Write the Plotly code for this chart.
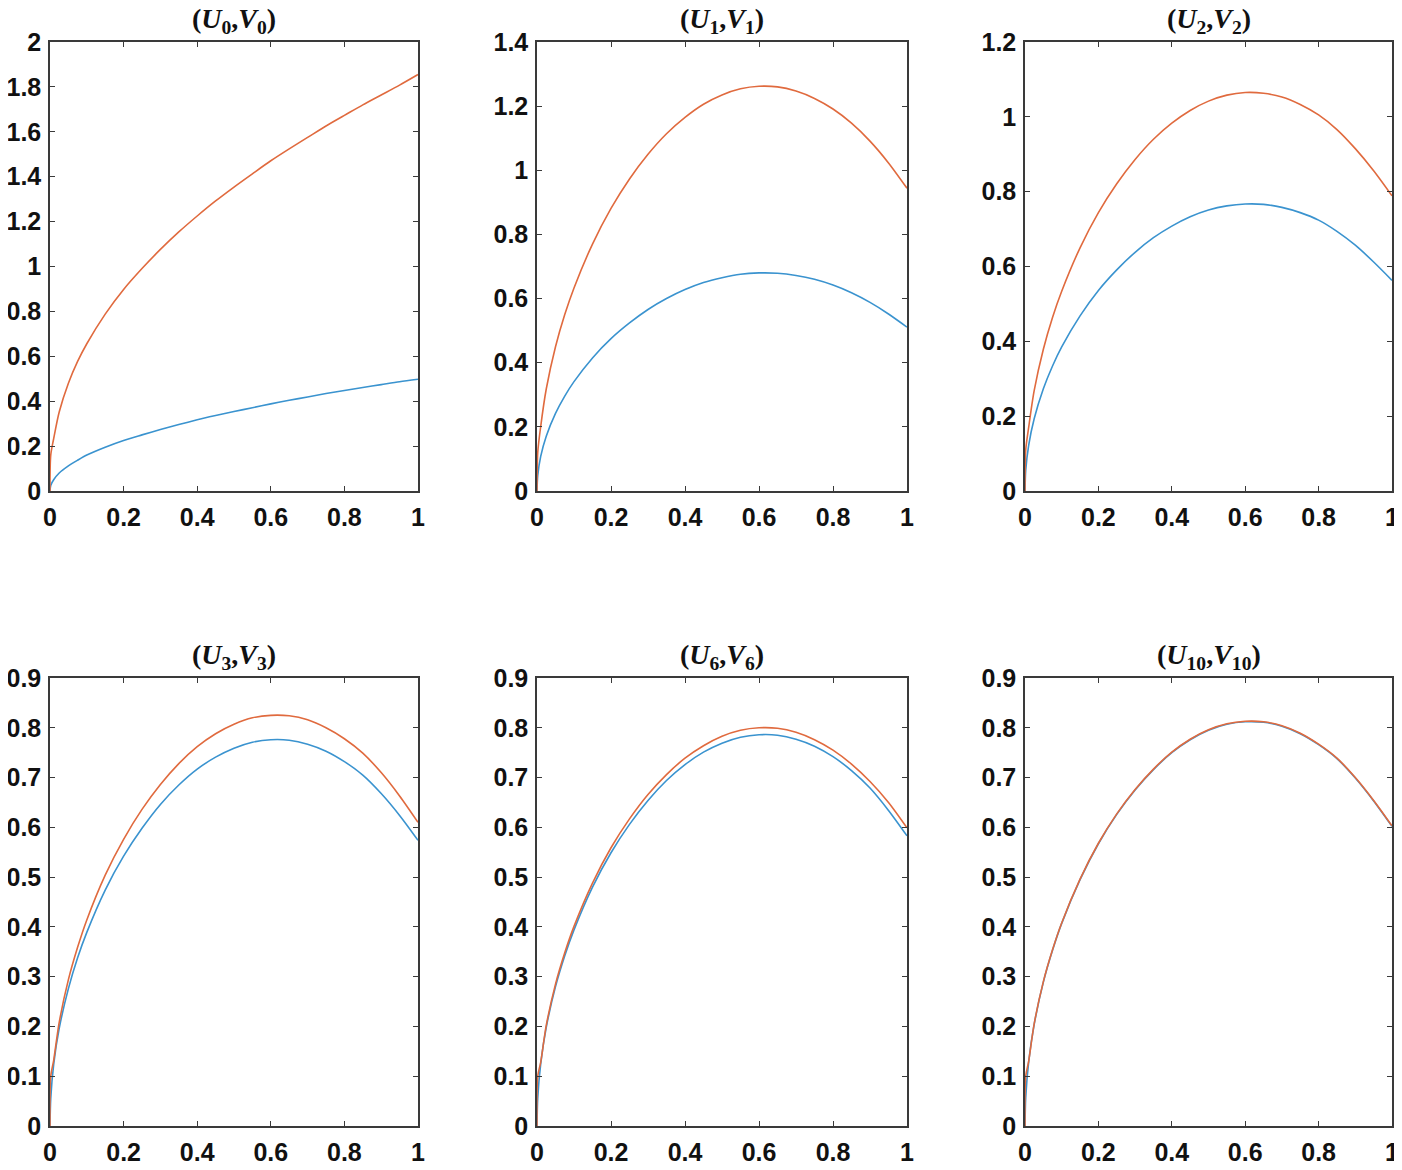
import plotly.graph_objects as go
from plotly.subplots import make_subplots

# ---- data ----
X = [0, 0.002, 0.01, 0.025, 0.05, 0.075, 0.1, 0.15, 0.2, 0.25, 0.3, 0.35, 0.4,
     0.45, 0.5, 0.55, 0.6, 0.65, 0.7, 0.75, 0.8, 0.85, 0.9, 0.95, 1.0]

titles = ["(<i>U</i><sub>0</sub>,<i>V</i><sub>0</sub>)",
          "(<i>U</i><sub>1</sub>,<i>V</i><sub>1</sub>)",
          "(<i>U</i><sub>2</sub>,<i>V</i><sub>2</sub>)",
          "(<i>U</i><sub>3</sub>,<i>V</i><sub>3</sub>)",
          "(<i>U</i><sub>6</sub>,<i>V</i><sub>6</sub>)",
          "(<i>U</i><sub>10</sub>,<i>V</i><sub>10</sub>)"]

u0 = [0, 0.025, 0.05, 0.08, 0.112, 0.137, 0.16, 0.195, 0.225, 0.25, 0.274, 0.296, 0.317,
      0.336, 0.354, 0.371, 0.388, 0.404, 0.419, 0.434, 0.448, 0.461, 0.474, 0.487, 0.498]
v0 = [0, 0.16, 0.233, 0.352, 0.48, 0.577, 0.656, 0.788, 0.898, 0.991, 1.076, 1.154, 1.225,
      1.292, 1.354, 1.413, 1.471, 1.524, 1.575, 1.626, 1.673, 1.72, 1.764, 1.808, 1.855]

u1 = [0, 0.048, 0.108, 0.171, 0.242, 0.296, 0.341, 0.415, 0.475, 0.524, 0.566, 0.600, 0.628,
      0.650, 0.665, 0.676, 0.680, 0.679, 0.672, 0.660, 0.642, 0.618, 0.588, 0.552, 0.511]
v1 = [0, 0.12, 0.201, 0.318, 0.450, 0.550, 0.633, 0.770, 0.881, 0.973, 1.050, 1.114, 1.165,
      1.206, 1.235, 1.254, 1.262, 1.260, 1.247, 1.224, 1.191, 1.147, 1.091, 1.023, 0.944]

u2 = [0, 0.055, 0.122, 0.193, 0.273, 0.334, 0.385, 0.468, 0.536, 0.591, 0.638, 0.677, 0.708,
      0.733, 0.751, 0.762, 0.767, 0.766, 0.758, 0.744, 0.724, 0.694, 0.657, 0.612, 0.563]
v2 = [0, 0.11, 0.170, 0.268, 0.379, 0.464, 0.534, 0.650, 0.744, 0.821, 0.886, 0.940, 0.983,
      1.017, 1.042, 1.058, 1.065, 1.063, 1.053, 1.033, 1.005, 0.966, 0.915, 0.856, 0.789]

u3 = [0, 0.055, 0.124, 0.196, 0.276, 0.338, 0.389, 0.474, 0.542, 0.598, 0.646, 0.685, 0.717,
      0.741, 0.759, 0.771, 0.776, 0.775, 0.767, 0.753, 0.732, 0.705, 0.668, 0.624, 0.574]
v3 = [0, 0.1, 0.132, 0.208, 0.294, 0.359, 0.414, 0.504, 0.576, 0.636, 0.686, 0.728, 0.762,
      0.788, 0.807, 0.820, 0.825, 0.824, 0.816, 0.800, 0.778, 0.749, 0.710, 0.663, 0.610]

u6 = [0, 0.056, 0.125, 0.198, 0.280, 0.342, 0.394, 0.480, 0.549, 0.606, 0.654, 0.694, 0.726,
      0.751, 0.769, 0.781, 0.786, 0.785, 0.777, 0.763, 0.742, 0.714, 0.679, 0.634, 0.583]
v6 = [0, 0.1, 0.128, 0.202, 0.285, 0.348, 0.401, 0.488, 0.559, 0.617, 0.666, 0.706, 0.739,
      0.764, 0.783, 0.795, 0.800, 0.799, 0.791, 0.776, 0.755, 0.727, 0.692, 0.650, 0.599]

u10 = [0, 0.057, 0.129, 0.204, 0.289, 0.353, 0.407, 0.495, 0.567, 0.626, 0.675, 0.716, 0.750,
       0.776, 0.795, 0.807, 0.812, 0.811, 0.803, 0.788, 0.766, 0.738, 0.699, 0.653, 0.602]
v10 = [0, 0.1, 0.130, 0.205, 0.290, 0.354, 0.408, 0.496, 0.568, 0.627, 0.676, 0.717, 0.751,
       0.777, 0.796, 0.808, 0.813, 0.812, 0.804, 0.789, 0.767, 0.739, 0.700, 0.654, 0.603]

U_series = [u0, u1, u2, u3, u6, u10]
V_series = [v0, v1, v2, v3, v6, v10]
y_max = [2, 1.4, 1.2, 0.9, 0.9, 0.9]
y_step = [0.2, 0.2, 0.2, 0.1, 0.1, 0.1]
x_ticks = [0, 0.2, 0.4, 0.6, 0.8, 1]

BLUE = "#3a93cf"
ORANGE = "#e06a3e"
AX = "#3a3a3a"

# the page body has an 8px margin; figure is sized to fit the window
OFF = 8
W, H = 1402 - OFF, 1170 - 2 * OFF
# target plot frames in window pixels
xdom_px = [(50, 418), (537, 907), (1025, 1392)]
ydom_px = [(42, 491), (678, 1126)]

fig = make_subplots(rows=2, cols=3)

for i in range(6):
    r, c = i // 3 + 1, i % 3 + 1
    fig.add_trace(go.Scatter(x=X, y=U_series[i], mode="lines",
                             line=dict(color=BLUE, width=1.6, shape="spline", smoothing=0.8),
                             showlegend=False, hoverinfo="skip"), row=r, col=c)
    fig.add_trace(go.Scatter(x=X, y=V_series[i], mode="lines",
                             line=dict(color=ORANGE, width=1.6, shape="spline", smoothing=0.8),
                             showlegend=False, hoverinfo="skip"), row=r, col=c)

tickfont = dict(family="Liberation Sans, Arial", size=25, color="#111111", weight="bold")

for i in range(6):
    r, c = i // 3, i % 3
    x0, x1 = xdom_px[c]
    y0, y1 = ydom_px[r]
    xd = [max(0.0, (x0 - OFF) / W), min(1.0, (x1 - OFF) / W)]
    yd = [max(0.0, 1 - (y1 - OFF) / H), min(1.0, 1 - (y0 - OFF) / H)]
    n = i + 1
    xa = "xaxis" if n == 1 else f"xaxis{n}"
    ya = "yaxis" if n == 1 else f"yaxis{n}"
    nticks = int(round(y_max[i] / y_step[i]))
    yt = [round(k * y_step[i], 2) for k in range(nticks + 1)]
    fig.layout[xa].update(domain=xd, range=[0, 1], tickvals=x_ticks,
                          ticktext=[("%g" % v) for v in x_ticks],
                          ticks="inside", ticklen=5, tickwidth=1.2, tickcolor=AX,
                          showline=True, linecolor=AX, linewidth=1.5, mirror="ticks",
                          showgrid=False, zeroline=False, tickfont=tickfont,
                          ticklabelstandoff=3, ticklabeloverflow="allow")
    fig.layout[ya].update(domain=yd, range=[0, y_max[i]], tickvals=yt,
                          ticktext=[("%g" % v) for v in yt],
                          ticks="inside", ticklen=5, tickwidth=1.2, tickcolor=AX,
                          showline=True, linecolor=AX, linewidth=1.5, mirror="ticks",
                          showgrid=False, zeroline=False, tickfont=tickfont,
                          ticklabelstandoff=2, ticklabeloverflow="allow")
    fig.add_annotation(text="<b>" + titles[i] + "</b>", xref="paper", yref="paper",
                       x=(xd[0] + xd[1]) / 2, y=yd[1], xanchor="center", yanchor="bottom",
                       yshift=2, showarrow=False,
                       font=dict(family="Liberation Serif, Times New Roman, serif",
                                 size=28, color="#111111"))

fig.update_layout(width=W, height=H,
                  margin=dict(l=0, r=0, t=0, b=0, autoexpand=False),
                  paper_bgcolor="white", plot_bgcolor="white")

fig.write_html("out.html")
